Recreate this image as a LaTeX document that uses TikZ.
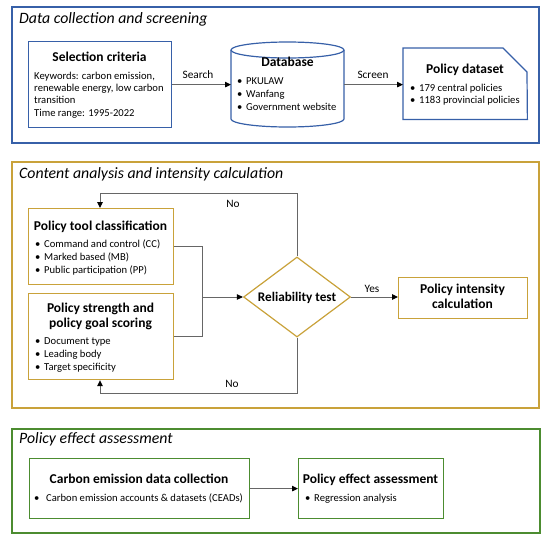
\documentclass[tikz,border=0pt]{standalone}
\usepackage{fontspec}
\setmainfont{Carlito}
\usetikzlibrary{arrows.meta,shapes.geometric}
\definecolor{cblue}{HTML}{3760A8}
\definecolor{cgold}{HTML}{C9A23A}
\definecolor{cgreen}{HTML}{4C8C30}
\newcommand\fs[1]{\fontsize{#1}{#1}\selectfont}
\newcommand\bul{\makebox[9pt][l]{\textbullet}}
\tikzset{
  sec/.style={draw, line width=2.4pt, inner sep=0, anchor=north west},
  inbox/.style={draw, line width=1.2pt, fill=white, inner sep=0, anchor=north west},
  ghost/.style={inner sep=0, anchor=north west},
  txt/.style={inner sep=0, anchor=base west, font=\fs{10.6}},
  ttl/.style={inner sep=0, anchor=base, font=\bfseries\fs{13.5}},
  lbl/.style={inner sep=0, anchor=base, font=\fs{11.3}},
  sectitle/.style={inner sep=0, anchor=base west, font=\itshape\fs{15.8}},
  conn/.style={draw=black!60, line width=0.9pt},
  arr/.style={conn, -{Triangle[length=6pt,width=5.5pt,color=black]}},
}
\begin{document}
\begin{tikzpicture}[x=1pt,y=-1pt]
\useasboundingbox (0,0) rectangle (550,541);
% ---------- sections
\node[sec, draw=cblue, minimum width=527, minimum height=136] (s1) at (11,6) {};
\node[sec, draw=cgold, minimum width=527, minimum height=246] (s2) at (11,161) {};
\node[sec, draw=cgreen, minimum width=528, minimum height=104] (s3) at (11,428) {};
\node[sectitle] (s1t) at (19,23) {Data collection and screening};
\node[sectitle] (s2t) at (19,178) {Content analysis and intensity calculation};
\node[sectitle] (s3t) at (19,443) {Policy effect assessment};

% ---------- section 1
\node[inbox, draw=cblue, minimum width=143, minimum height=86] (sel) at (28,41) {};
\node[ttl] (selt) at (99.5,61) {Selection criteria};
\node[txt] (sel1) at (34,79) {Keywords: carbon emission,};
\node[txt] (sel2) at (34,91.3) {renewable energy, low carbon};
\node[txt] (sel3) at (34,103.6) {transition};
\node[txt] (sel4) at (34,116) {Time range: 1995-2022};

\node[ghost, minimum width=113, minimum height=85] (db) at (231,42) {};
\fill[white] (231,50) -- (231,119) arc[start angle=180, end angle=360, x radius=56.5pt, y radius=8pt] -- (344,50) -- cycle;
\draw[cblue, line width=1.2pt] (231,50) -- (231,119) arc[start angle=180, end angle=360, x radius=56.5pt, y radius=8pt] -- (344,50);
\draw[cblue, line width=1.2pt, fill=white] (287.5,50) ellipse [x radius=56.5pt, y radius=8pt];
\node[ttl] (dbt) at (287.5,66) {Database};
\node[txt] (db1) at (237,84) {\bul PKULAW};
\node[txt] (db2) at (237,97) {\bul Wanfang};
\node[txt] (db3) at (237,110) {\bul Government website};

\node[ghost, minimum width=124, minimum height=71] (ds) at (403,48) {};
\draw[cblue, line width=1.2pt, fill=white] (ds.north west) -- (503,48) -- (527,72) -- (ds.south east) -- (ds.south west) -- cycle;
\node[ttl] (dst) at (465,73) {Policy dataset};
\node[txt] (ds1) at (410,91) {\bul 179 central policies};
\node[txt] (ds2) at (410,103) {\bul 1183 provincial policies};

\draw[arr] (sel.east) -- (sel.east -| db.west);
\node[lbl] (srch) at (198,78) {Search};
\draw[arr] (db.east |- sel.east) -- (sel.east -| ds.west);
\node[lbl] (scr) at (373,78) {Screen};

% ---------- section 2
\node[inbox, draw=cgold, minimum width=145, minimum height=76] (tool) at (28,208) {};
\node[ttl] (toolt) at (100.5,230) {Policy tool classification};
\node[txt] (tool1) at (35,247) {\bul Command and control (CC)};
\node[txt] (tool2) at (35,260) {\bul Marked based (MB)};
\node[txt] (tool3) at (35,273) {\bul Public participation (PP)};

\node[inbox, draw=cgold, minimum width=145, minimum height=86] (str) at (28,293) {};
\node[ttl] (strt1) at (100.5,312) {Policy strength and};
\node[ttl] (strt2) at (100.5,327) {policy goal scoring};
\node[txt] (str1) at (35,344) {\bul Document type};
\node[txt] (str2) at (35,357) {\bul Leading body};
\node[txt] (str3) at (35,370) {\bul Target specificity};

\node[diamond, draw=cgold, line width=1.2pt, fill=white, minimum width=107, minimum height=80, inner sep=0] (rel) at (297,297) {};
\node[ttl, font=\bfseries\fs{13.2}] (relt) at (297,301) {Reliability test};

\node[inbox, draw=cgold, minimum width=129, minimum height=41] (pic) at (398,277) {};
\node[ttl] (pict1) at (462.5,293) {Policy intensity};
\node[ttl] (pict2) at (462.5,308) {calculation};

\coordinate (mx) at (202,297);
\draw[conn] (tool.east) -| (mx);
\draw[conn] (str.east) -| (mx);
\draw[arr] (mx) -- (rel.west);

\coordinate (t1) at (100,193);
\draw[arr] (rel.north) |- (t1) -- (t1 |- tool.north);
\node[lbl] (no1) at (233,207) {No};
\coordinate (b1) at (100,393);
\draw[arr] (rel.south) |- (b1) -- (b1 |- str.south);
\node[lbl] (no2) at (232,387) {No};

\draw[arr] (rel.east) -- (rel.east -| pic.west);
\node[lbl] (yes) at (372,292) {Yes};

% ---------- section 3
\node[inbox, draw=cgreen, minimum width=220, minimum height=60] (cd) at (29,458) {};
\node[ttl] (cdt) at (139,483) {Carbon emission data collection};
\node[txt] (cd1) at (34,501) {\makebox[12pt][l]{\textbullet}Carbon emission accounts \& datasets (CEADs)};

\node[inbox, draw=cgreen, minimum width=145, minimum height=60] (pe) at (298,458) {};
\node[ttl] (pet) at (370.5,483) {Policy effect assessment};
\node[txt] (pe1) at (305,501) {\bul Regression analysis};

\draw[arr] (cd.east) -- (pe.west);
\end{tikzpicture}
\end{document}
